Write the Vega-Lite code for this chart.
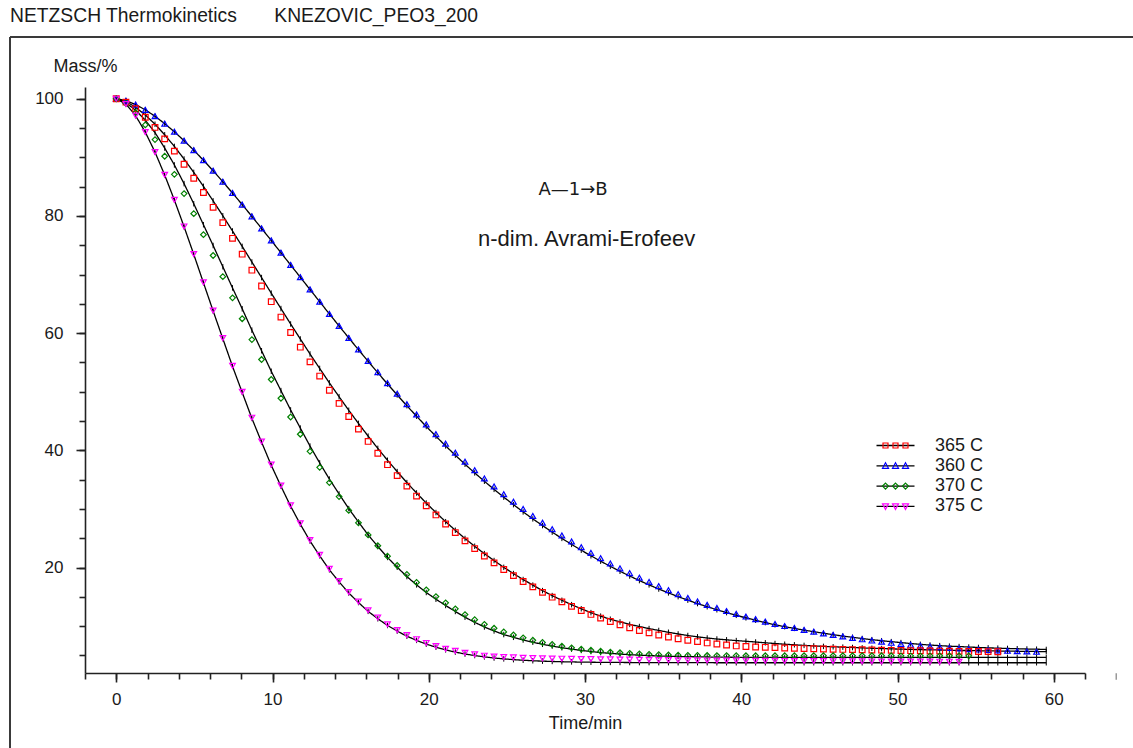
{
"$schema":"https://vega.github.io/schema/vega-lite/v6.json",
"width":1000,"height":586,
"autosize":{"type":"none"},
"padding":{"left":85,"top":87,"right":48,"bottom":75},
"background":"white",
"title":{"text":"NETZSCH Thermokinetics\u00a0\u00a0\u00a0\u00a0\u00a0\u00a0\u00a0KNEZOVIC_PEO3_200","anchor":"start","frame":"group","dx":-75,"offset":10,"fontSize":19.3,"fontWeight":"normal","font":"Liberation Sans","color":"#1a1a1a"},
"config":{"view":{"stroke":null},
"axis":{"domainColor":"#222","domainWidth":1.6,"tickColor":"#222","tickWidth":1.6,"labelFont":"Liberation Sans","labelFontSize":17,"labelColor":"#1a1a1a","titleFont":"Liberation Sans","titleFontSize":18,"titleFontWeight":"normal","titleColor":"#1a1a1a","grid":false}},
"resolve":{"axis":{"x":"independent","y":"independent"}},
"data":{"values":[
{"s":"365 C","t":0,"m":100,"f":100},{"s":"365 C","t":0.62,"m":99.42,"f":99.52},{"s":"365 C","t":1.24,"m":98.29,"f":98.54},{"s":"365 C","t":1.86,"m":96.83,"f":97.23},{"s":"365 C","t":2.48,"m":95.1,"f":95.65},{"s":"365 C","t":3.1,"m":93.15,"f":93.85},{"s":"365 C","t":3.72,"m":91.06,"f":91.86},{"s":"365 C","t":4.34,"m":88.81,"f":89.71},{"s":"365 C","t":4.96,"m":86.43,"f":87.43},{"s":"365 C","t":5.58,"m":84.0,"f":85.05},
{"s":"365 C","t":6.2,"m":81.47,"f":82.57},{"s":"365 C","t":6.82,"m":78.85,"f":80.03},{"s":"365 C","t":7.44,"m":76.18,"f":77.43},{"s":"365 C","t":8.06,"m":73.47,"f":74.8},{"s":"365 C","t":8.68,"m":70.74,"f":72.14},{"s":"365 C","t":9.3,"m":68.05,"f":69.48},{"s":"365 C","t":9.92,"m":65.37,"f":66.82},{"s":"365 C","t":10.54,"m":62.74,"f":64.19},{"s":"365 C","t":11.16,"m":60.11,"f":61.56},{"s":"365 C","t":11.78,"m":57.6,"f":59.0},
{"s":"365 C","t":12.4,"m":55.09,"f":56.44},{"s":"365 C","t":13.02,"m":52.67,"f":53.97},{"s":"365 C","t":13.64,"m":50.26,"f":51.51},{"s":"365 C","t":14.26,"m":48.0,"f":49.15},{"s":"365 C","t":14.88,"m":45.78,"f":46.83},{"s":"365 C","t":15.5,"m":43.62,"f":44.6},{"s":"365 C","t":16.12,"m":41.52,"f":42.42},{"s":"365 C","t":16.74,"m":39.5,"f":40.33},{"s":"365 C","t":17.36,"m":37.55,"f":38.3},{"s":"365 C","t":17.98,"m":35.69,"f":36.37},
{"s":"365 C","t":18.6,"m":33.89,"f":34.49},{"s":"365 C","t":19.22,"m":32.19,"f":32.72},{"s":"365 C","t":19.84,"m":30.55,"f":31.0},{"s":"365 C","t":20.46,"m":28.98,"f":29.38},{"s":"365 C","t":21.08,"m":27.42,"f":27.82},{"s":"365 C","t":21.7,"m":25.96,"f":26.36},{"s":"365 C","t":22.32,"m":24.55,"f":24.95},{"s":"365 C","t":22.94,"m":23.23,"f":23.63},{"s":"365 C","t":23.56,"m":21.97,"f":22.37},{"s":"365 C","t":24.18,"m":20.79,"f":21.19},
{"s":"365 C","t":24.8,"m":19.66,"f":20.03},{"s":"365 C","t":25.42,"m":18.62,"f":18.97},{"s":"365 C","t":26.04,"m":17.62,"f":17.95},{"s":"365 C","t":26.66,"m":16.7,"f":17.0},{"s":"365 C","t":27.28,"m":15.76,"f":16.06},{"s":"365 C","t":27.9,"m":14.94,"f":15.21},{"s":"365 C","t":28.52,"m":14.14,"f":14.41},{"s":"365 C","t":29.14,"m":13.38,"f":13.66},{"s":"365 C","t":29.76,"m":12.66,"f":12.96},{"s":"365 C","t":30.38,"m":12.0,"f":12.3},
{"s":"365 C","t":31,"m":11.37,"f":11.7},{"s":"365 C","t":31.62,"m":10.79,"f":11.18},{"s":"365 C","t":32.24,"m":10.24,"f":10.71},{"s":"365 C","t":32.86,"m":9.73,"f":10.3},{"s":"365 C","t":33.48,"m":9.25,"f":9.93},{"s":"365 C","t":34.1,"m":8.85,"f":9.58},{"s":"365 C","t":34.72,"m":8.49,"f":9.26},{"s":"365 C","t":35.34,"m":8.15,"f":8.95},{"s":"365 C","t":35.96,"m":7.85,"f":8.66},{"s":"365 C","t":36.58,"m":7.58,"f":8.4},
{"s":"365 C","t":37.2,"m":7.36,"f":8.17},{"s":"365 C","t":37.82,"m":7.13,"f":7.97},{"s":"365 C","t":38.44,"m":6.95,"f":7.8},{"s":"365 C","t":39.06,"m":6.77,"f":7.66},{"s":"365 C","t":39.68,"m":6.62,"f":7.53},{"s":"365 C","t":40.3,"m":6.52,"f":7.41},{"s":"365 C","t":40.92,"m":6.44,"f":7.29},{"s":"365 C","t":41.54,"m":6.38,"f":7.15},{"s":"365 C","t":42.16,"m":6.33,"f":7.03},{"s":"365 C","t":42.78,"m":6.27,"f":6.91},
{"s":"365 C","t":43.4,"m":6.22,"f":6.81},{"s":"365 C","t":44.02,"m":6.17,"f":6.71},{"s":"365 C","t":44.64,"m":6.13,"f":6.62},{"s":"365 C","t":45.26,"m":6.09,"f":6.54},{"s":"365 C","t":45.88,"m":6.05,"f":6.47},{"s":"365 C","t":46.5,"m":6.02,"f":6.41},{"s":"365 C","t":47.12,"m":5.99,"f":6.35},{"s":"365 C","t":47.74,"m":5.96,"f":6.28},{"s":"365 C","t":48.36,"m":5.93,"f":6.22},{"s":"365 C","t":48.98,"m":5.9,"f":6.17},
{"s":"365 C","t":49.6,"m":5.87,"f":6.12},{"s":"365 C","t":50.22,"m":5.84,"f":6.07},{"s":"365 C","t":50.84,"m":5.81,"f":6.03},{"s":"365 C","t":51.46,"m":5.79,"f":5.98},{"s":"365 C","t":52.08,"m":5.76,"f":5.95},{"s":"365 C","t":52.7,"m":5.74,"f":5.92},{"s":"365 C","t":53.32,"m":5.72,"f":5.89},{"s":"365 C","t":53.94,"m":5.7,"f":5.85},{"s":"365 C","t":54.56,"m":5.68,"f":5.83},{"s":"365 C","t":55.18,"m":5.66,"f":5.8},
{"s":"365 C","t":55.8,"m":5.65,"f":5.78},{"s":"365 C","t":56.42,"m":5.63,"f":5.75},{"s":"365 C","t":57.04,"f":5.73},{"s":"365 C","t":57.66,"f":5.71},{"s":"365 C","t":58.28,"f":5.69},{"s":"365 C","t":58.9,"f":5.67},{"s":"365 C","t":59.52,"f":5.65},
{"s":"360 C","t":0,"m":100,"f":100},{"s":"360 C","t":0.62,"m":99.67,"f":99.67},{"s":"360 C","t":1.24,"m":99.0,"f":99.0},{"s":"360 C","t":1.86,"m":98.1,"f":98.1},{"s":"360 C","t":2.48,"m":97.01,"f":97.01},{"s":"360 C","t":3.1,"m":95.75,"f":95.75},{"s":"360 C","t":3.72,"m":94.36,"f":94.36},{"s":"360 C","t":4.34,"m":92.84,"f":92.84},{"s":"360 C","t":4.96,"m":91.22,"f":91.22},{"s":"360 C","t":5.58,"m":89.5,"f":89.5},
{"s":"360 C","t":6.2,"m":87.71,"f":87.71},{"s":"360 C","t":6.82,"m":85.83,"f":85.83},{"s":"360 C","t":7.44,"m":83.91,"f":83.91},{"s":"360 C","t":8.06,"m":81.93,"f":81.93},{"s":"360 C","t":8.68,"m":79.93,"f":79.93},{"s":"360 C","t":9.3,"m":77.87,"f":77.87},{"s":"360 C","t":9.92,"m":75.81,"f":75.81},{"s":"360 C","t":10.54,"m":73.72,"f":73.72},{"s":"360 C","t":11.16,"m":71.63,"f":71.63},{"s":"360 C","t":11.78,"m":69.54,"f":69.54},
{"s":"360 C","t":12.4,"m":67.44,"f":67.44},{"s":"360 C","t":13.02,"m":65.36,"f":65.36},{"s":"360 C","t":13.64,"m":63.27,"f":63.27},{"s":"360 C","t":14.26,"m":61.23,"f":61.23},{"s":"360 C","t":14.88,"m":59.18,"f":59.18},{"s":"360 C","t":15.5,"m":57.22,"f":57.18},{"s":"360 C","t":16.12,"m":55.27,"f":55.19},{"s":"360 C","t":16.74,"m":53.35,"f":53.24},{"s":"360 C","t":17.36,"m":51.47,"f":51.32},{"s":"360 C","t":17.98,"m":49.65,"f":49.45},
{"s":"360 C","t":18.6,"m":47.86,"f":47.61},{"s":"360 C","t":19.22,"m":46.12,"f":45.82},{"s":"360 C","t":19.84,"m":44.42,"f":44.07},{"s":"360 C","t":20.46,"m":42.77,"f":42.4},{"s":"360 C","t":21.08,"m":41.15,"f":40.75},{"s":"360 C","t":21.7,"m":39.59,"f":39.17},{"s":"360 C","t":22.32,"m":38.07,"f":37.62},{"s":"360 C","t":22.94,"m":36.61,"f":36.15},{"s":"360 C","t":23.56,"m":35.19,"f":34.72},{"s":"360 C","t":24.18,"m":33.83,"f":33.34},
{"s":"360 C","t":24.8,"m":32.51,"f":32.01},{"s":"360 C","t":25.42,"m":31.23,"f":30.73},{"s":"360 C","t":26.04,"m":29.99,"f":29.49},{"s":"360 C","t":26.66,"m":28.8,"f":28.3},{"s":"360 C","t":27.28,"m":27.66,"f":27.16},{"s":"360 C","t":27.9,"m":26.54,"f":26.04},{"s":"360 C","t":28.52,"m":25.47,"f":24.97},{"s":"360 C","t":29.14,"m":24.45,"f":23.95},{"s":"360 C","t":29.76,"m":23.46,"f":22.96},{"s":"360 C","t":30.38,"m":22.5,"f":22.0},
{"s":"360 C","t":31,"m":21.58,"f":21.08},{"s":"360 C","t":31.62,"m":20.7,"f":20.2},{"s":"360 C","t":32.24,"m":19.86,"f":19.36},{"s":"360 C","t":32.86,"m":19.05,"f":18.55},{"s":"360 C","t":33.48,"m":18.27,"f":17.77},{"s":"360 C","t":34.1,"m":17.54,"f":17.04},{"s":"360 C","t":34.72,"m":16.83,"f":16.33},{"s":"360 C","t":35.34,"m":16.13,"f":15.67},{"s":"360 C","t":35.96,"m":15.46,"f":15.03},{"s":"360 C","t":36.58,"m":14.81,"f":14.43},
{"s":"360 C","t":37.2,"m":14.2,"f":13.85},{"s":"360 C","t":37.82,"m":13.63,"f":13.31},{"s":"360 C","t":38.44,"m":13.09,"f":12.79},{"s":"360 C","t":39.06,"m":12.57,"f":12.3},{"s":"360 C","t":39.68,"m":12.09,"f":11.84},{"s":"360 C","t":40.3,"m":11.63,"f":11.41},{"s":"360 C","t":40.92,"m":11.2,"f":11.0},{"s":"360 C","t":41.54,"m":10.77,"f":10.6},{"s":"360 C","t":42.16,"m":10.38,"f":10.23},{"s":"360 C","t":42.78,"m":10.01,"f":9.9},
{"s":"360 C","t":43.4,"m":9.69,"f":9.61},{"s":"360 C","t":44.02,"m":9.35,"f":9.31},{"s":"360 C","t":44.64,"m":9.05,"f":9.05},{"s":"360 C","t":45.26,"m":8.76,"f":8.79},{"s":"360 C","t":45.88,"m":8.49,"f":8.54},{"s":"360 C","t":46.5,"m":8.23,"f":8.3},{"s":"360 C","t":47.12,"m":7.99,"f":8.09},{"s":"360 C","t":47.74,"m":7.75,"f":7.88},{"s":"360 C","t":48.36,"m":7.54,"f":7.69},{"s":"360 C","t":48.98,"m":7.34,"f":7.51},
{"s":"360 C","t":49.6,"m":7.15,"f":7.35},{"s":"360 C","t":50.22,"m":6.97,"f":7.19},{"s":"360 C","t":50.84,"m":6.81,"f":7.03},{"s":"360 C","t":51.46,"m":6.65,"f":6.89},{"s":"360 C","t":52.08,"m":6.52,"f":6.77},{"s":"360 C","t":52.7,"m":6.4,"f":6.67},{"s":"360 C","t":53.32,"m":6.28,"f":6.58},{"s":"360 C","t":53.94,"m":6.18,"f":6.51},{"s":"360 C","t":54.56,"m":6.08,"f":6.43},{"s":"360 C","t":55.18,"m":6.0,"f":6.36},
{"s":"360 C","t":55.8,"m":5.92,"f":6.29},{"s":"360 C","t":56.42,"m":5.85,"f":6.24},{"s":"360 C","t":57.04,"m":5.79,"f":6.19},{"s":"360 C","t":57.66,"m":5.73,"f":6.14},{"s":"360 C","t":58.28,"m":5.67,"f":6.09},{"s":"360 C","t":58.9,"m":5.62,"f":6.06},{"s":"360 C","t":59.52,"f":6.02},
{"s":"370 C","t":0,"m":100,"f":100},{"s":"370 C","t":0.62,"m":99.21,"f":99.31},{"s":"370 C","t":1.24,"m":97.64,"f":98.04},{"s":"370 C","t":1.86,"m":95.53,"f":96.33},{"s":"370 C","t":2.48,"m":93.02,"f":94.22},{"s":"370 C","t":3.1,"m":90.18,"f":91.58},{"s":"370 C","t":3.72,"m":87.1,"f":88.7},{"s":"370 C","t":4.34,"m":83.81,"f":85.51},{"s":"370 C","t":4.96,"m":80.38,"f":82.08},{"s":"370 C","t":5.58,"m":76.8,"f":78.5},
{"s":"370 C","t":6.2,"m":73.25,"f":74.95},{"s":"370 C","t":6.82,"m":69.63,"f":71.33},{"s":"370 C","t":7.44,"m":66.02,"f":67.72},{"s":"370 C","t":8.06,"m":62.46,"f":64.16},{"s":"370 C","t":8.68,"m":58.9,"f":60.5},{"s":"370 C","t":9.3,"m":55.49,"f":56.99},{"s":"370 C","t":9.92,"m":52.09,"f":53.49},{"s":"370 C","t":10.54,"m":48.89,"f":50.19},{"s":"370 C","t":11.16,"m":45.69,"f":46.89},{"s":"370 C","t":11.78,"m":42.75,"f":43.8},
{"s":"370 C","t":12.4,"m":39.82,"f":40.72},{"s":"370 C","t":13.02,"m":37.1,"f":37.85},{"s":"370 C","t":13.64,"m":34.49,"f":35.09},{"s":"370 C","t":14.26,"m":32.1,"f":32.55},{"s":"370 C","t":14.88,"m":29.75,"f":30.05},{"s":"370 C","t":15.5,"m":27.62,"f":27.77},{"s":"370 C","t":16.12,"m":25.57,"f":25.57},{"s":"370 C","t":16.74,"m":23.72,"f":23.6},{"s":"370 C","t":17.36,"m":21.94,"f":21.72},{"s":"370 C","t":17.98,"m":20.35,"f":20.05},
{"s":"370 C","t":18.6,"m":18.83,"f":18.46},{"s":"370 C","t":19.22,"m":17.46,"f":17.04},{"s":"370 C","t":19.84,"m":16.19,"f":15.74},{"s":"370 C","t":20.46,"m":15.04,"f":14.59},{"s":"370 C","t":21.08,"m":13.97,"f":13.52},{"s":"370 C","t":21.7,"m":12.95,"f":12.5},{"s":"370 C","t":22.32,"m":11.97,"f":11.52},{"s":"370 C","t":22.94,"m":11.1,"f":10.65},{"s":"370 C","t":23.56,"m":10.3,"f":9.85},{"s":"370 C","t":24.18,"m":9.63,"f":9.18},
{"s":"370 C","t":24.8,"m":9.01,"f":8.56},{"s":"370 C","t":25.42,"m":8.49,"f":8.09},{"s":"370 C","t":26.04,"m":8.0,"f":7.63},{"s":"370 C","t":26.66,"m":7.58,"f":7.25},{"s":"370 C","t":27.28,"m":7.2,"f":6.9},{"s":"370 C","t":27.9,"m":6.86,"f":6.59},{"s":"370 C","t":28.52,"m":6.56,"f":6.31},{"s":"370 C","t":29.14,"m":6.3,"f":6.08},{"s":"370 C","t":29.76,"m":6.07,"f":5.85},{"s":"370 C","t":30.38,"m":5.88,"f":5.66},
{"s":"370 C","t":31,"m":5.71,"f":5.49},{"s":"370 C","t":31.62,"m":5.57,"f":5.35},{"s":"370 C","t":32.24,"m":5.45,"f":5.23},{"s":"370 C","t":32.86,"m":5.35,"f":5.13},{"s":"370 C","t":33.48,"m":5.26,"f":5.04},{"s":"370 C","t":34.1,"m":5.19,"f":4.97},{"s":"370 C","t":34.72,"m":5.13,"f":4.91},{"s":"370 C","t":35.34,"m":5.08,"f":4.86},{"s":"370 C","t":35.96,"m":5.04,"f":4.82},{"s":"370 C","t":36.58,"m":5.01,"f":4.79},
{"s":"370 C","t":37.2,"m":4.99,"f":4.76},{"s":"370 C","t":37.82,"m":4.98,"f":4.73},{"s":"370 C","t":38.44,"m":4.97,"f":4.71},{"s":"370 C","t":39.06,"m":4.97,"f":4.69},{"s":"370 C","t":39.68,"m":4.96,"f":4.68},{"s":"370 C","t":40.3,"m":4.95,"f":4.67},{"s":"370 C","t":40.92,"m":4.95,"f":4.66},{"s":"370 C","t":41.54,"m":4.95,"f":4.65},{"s":"370 C","t":42.16,"m":4.95,"f":4.65},{"s":"370 C","t":42.78,"m":4.95,"f":4.65},
{"s":"370 C","t":43.4,"m":4.95,"f":4.65},{"s":"370 C","t":44.02,"m":4.95,"f":4.65},{"s":"370 C","t":44.64,"m":4.95,"f":4.65},{"s":"370 C","t":45.26,"m":4.94,"f":4.65},{"s":"370 C","t":45.88,"m":4.94,"f":4.65},{"s":"370 C","t":46.5,"m":4.94,"f":4.65},{"s":"370 C","t":47.12,"m":4.94,"f":4.65},{"s":"370 C","t":47.74,"m":4.94,"f":4.65},{"s":"370 C","t":48.36,"m":4.94,"f":4.65},{"s":"370 C","t":48.98,"m":4.94,"f":4.65},
{"s":"370 C","t":49.6,"m":4.94,"f":4.65},{"s":"370 C","t":50.22,"m":4.93,"f":4.65},{"s":"370 C","t":50.84,"m":4.93,"f":4.65},{"s":"370 C","t":51.46,"m":4.93,"f":4.65},{"s":"370 C","t":52.08,"m":4.93,"f":4.65},{"s":"370 C","t":52.7,"m":4.93,"f":4.65},{"s":"370 C","t":53.32,"m":4.93,"f":4.65},{"s":"370 C","t":53.94,"m":4.93,"f":4.65},{"s":"370 C","t":54.56,"m":4.93,"f":4.65},{"s":"370 C","t":55.18,"f":4.65},
{"s":"370 C","t":55.8,"f":4.65},{"s":"370 C","t":56.42,"f":4.65},{"s":"370 C","t":57.04,"f":4.65},{"s":"370 C","t":57.66,"f":4.65},{"s":"370 C","t":58.28,"f":4.65},{"s":"370 C","t":58.9,"f":4.65},{"s":"370 C","t":59.52,"f":4.65},
{"s":"375 C","t":0,"m":100,"f":100},{"s":"375 C","t":0.62,"m":99.1,"f":99.1},{"s":"375 C","t":1.24,"m":97.11,"f":97.1},{"s":"375 C","t":1.86,"m":94.32,"f":94.3},{"s":"375 C","t":2.48,"m":90.91,"f":90.89},{"s":"375 C","t":3.1,"m":87.01,"f":86.98},{"s":"375 C","t":3.72,"m":82.74,"f":82.71},{"s":"375 C","t":4.34,"m":78.2,"f":78.16},{"s":"375 C","t":4.96,"m":73.49,"f":73.44},{"s":"375 C","t":5.58,"m":68.68,"f":68.6},
{"s":"375 C","t":6.2,"m":63.86,"f":63.79},{"s":"375 C","t":6.82,"m":59.14,"f":59.06},{"s":"375 C","t":7.44,"m":54.42,"f":54.33},{"s":"375 C","t":8.06,"m":49.99,"f":49.89},{"s":"375 C","t":8.68,"m":45.57,"f":45.45},{"s":"375 C","t":9.3,"m":41.5,"f":41.4},{"s":"375 C","t":9.92,"m":37.58,"f":37.45},{"s":"375 C","t":10.54,"m":34.0,"f":33.88},{"s":"375 C","t":11.16,"m":30.6,"f":30.46},{"s":"375 C","t":11.78,"m":27.55,"f":27.4},
{"s":"375 C","t":12.4,"m":24.68,"f":24.52},{"s":"375 C","t":13.02,"m":22.15,"f":22.0},{"s":"375 C","t":13.64,"m":19.78,"f":19.61},{"s":"375 C","t":14.26,"m":17.7,"f":17.55},{"s":"375 C","t":14.88,"m":15.82,"f":15.65},{"s":"375 C","t":15.5,"m":14.2,"f":14.03},{"s":"375 C","t":16.12,"m":12.71,"f":12.52},{"s":"375 C","t":16.74,"m":11.45,"f":11.26},{"s":"375 C","t":17.36,"m":10.3,"f":10.11},{"s":"375 C","t":17.98,"m":9.34,"f":9.15},
{"s":"375 C","t":18.6,"m":8.47,"f":8.28},{"s":"375 C","t":19.22,"m":7.77,"f":7.57},{"s":"375 C","t":19.84,"m":7.13,"f":6.93},{"s":"375 C","t":20.46,"m":6.61,"f":6.41},{"s":"375 C","t":21.08,"m":6.14,"f":5.95},{"s":"375 C","t":21.7,"m":5.77,"f":5.57},{"s":"375 C","t":22.32,"m":5.44,"f":5.24},{"s":"375 C","t":22.94,"m":5.18,"f":4.98},{"s":"375 C","t":23.56,"m":4.95,"f":4.75},{"s":"375 C","t":24.18,"m":4.8,"f":4.56},
{"s":"375 C","t":24.8,"m":4.72,"f":4.41},{"s":"375 C","t":25.42,"m":4.66,"f":4.28},{"s":"375 C","t":26.04,"m":4.6,"f":4.18},{"s":"375 C","t":26.66,"m":4.55,"f":4.09},{"s":"375 C","t":27.28,"m":4.5,"f":4.02},{"s":"375 C","t":27.9,"m":4.47,"f":3.97},{"s":"375 C","t":28.52,"m":4.44,"f":3.92},{"s":"375 C","t":29.14,"m":4.41,"f":3.89},{"s":"375 C","t":29.76,"m":4.38,"f":3.86},{"s":"375 C","t":30.38,"m":4.36,"f":3.84},
{"s":"375 C","t":31,"m":4.34,"f":3.82},{"s":"375 C","t":31.62,"m":4.32,"f":3.81},{"s":"375 C","t":32.24,"m":4.3,"f":3.8},{"s":"375 C","t":32.86,"m":4.28,"f":3.79},{"s":"375 C","t":33.48,"m":4.26,"f":3.78},{"s":"375 C","t":34.1,"m":4.24,"f":3.78},{"s":"375 C","t":34.72,"m":4.22,"f":3.77},{"s":"375 C","t":35.34,"m":4.2,"f":3.77},{"s":"375 C","t":35.96,"m":4.18,"f":3.76},{"s":"375 C","t":36.58,"m":4.16,"f":3.76},
{"s":"375 C","t":37.2,"m":4.15,"f":3.76},{"s":"375 C","t":37.82,"m":4.14,"f":3.76},{"s":"375 C","t":38.44,"m":4.13,"f":3.75},{"s":"375 C","t":39.06,"m":4.12,"f":3.75},{"s":"375 C","t":39.68,"m":4.11,"f":3.75},{"s":"375 C","t":40.3,"m":4.1,"f":3.75},{"s":"375 C","t":40.92,"m":4.09,"f":3.75},{"s":"375 C","t":41.54,"m":4.08,"f":3.75},{"s":"375 C","t":42.16,"m":4.07,"f":3.75},{"s":"375 C","t":42.78,"m":4.06,"f":3.75},
{"s":"375 C","t":43.4,"m":4.05,"f":3.75},{"s":"375 C","t":44.02,"m":4.04,"f":3.75},{"s":"375 C","t":44.64,"m":4.03,"f":3.75},{"s":"375 C","t":45.26,"m":4.02,"f":3.75},{"s":"375 C","t":45.88,"m":4.01,"f":3.75},{"s":"375 C","t":46.5,"m":4.0,"f":3.75},{"s":"375 C","t":47.12,"m":3.99,"f":3.75},{"s":"375 C","t":47.74,"m":3.98,"f":3.75},{"s":"375 C","t":48.36,"m":3.97,"f":3.75},{"s":"375 C","t":48.98,"m":3.96,"f":3.75},
{"s":"375 C","t":49.6,"m":3.96,"f":3.75},{"s":"375 C","t":50.22,"m":3.95,"f":3.75},{"s":"375 C","t":50.84,"m":3.95,"f":3.75},{"s":"375 C","t":51.46,"m":3.94,"f":3.75},{"s":"375 C","t":52.08,"m":3.94,"f":3.75},{"s":"375 C","t":52.7,"m":3.93,"f":3.75},{"s":"375 C","t":53.32,"m":3.93,"f":3.75},{"s":"375 C","t":53.94,"m":3.92,"f":3.75},{"s":"375 C","t":54.56,"f":3.75},{"s":"375 C","t":55.18,"f":3.75},
{"s":"375 C","t":55.8,"f":3.75},{"s":"375 C","t":56.42,"f":3.75},{"s":"375 C","t":57.04,"f":3.75},{"s":"375 C","t":57.66,"f":3.75},{"s":"375 C","t":58.28,"f":3.75},{"s":"375 C","t":58.9,"f":3.75},{"s":"375 C","t":59.52,"f":3.75}
]},
"layer":[
{"data":{"values":[{}]},"mark":{"type":"rule","stroke":"#3a3a3a","strokeWidth":2},
 "encoding":{"x":{"datum":-6.8,"type":"quantitative","axis":null},"x2":{"datum":90},"y":{"datum":110.53,"type":"quantitative","axis":null}}},
{"data":{"values":[{}]},"mark":{"type":"rule","stroke":"#3a3a3a","strokeWidth":2},
 "encoding":{"x":{"datum":-6.8,"type":"quantitative","axis":null},"y":{"datum":110.53,"type":"quantitative","axis":null},"y2":{"datum":-30}}},
{"data":{"values":[{}]},"mark":{"type":"rule","stroke":"#999","strokeWidth":1.5},
 "encoding":{"x":{"datum":64,"type":"quantitative","axis":null},"y":{"datum":1.95,"type":"quantitative","axis":null},"y2":{"datum":0.85}}},
{"mark":{"type":"line","color":"#000","strokeWidth":1.3},
 "encoding":{
  "x":{"field":"t","type":"quantitative","scale":{"domain":[-2,62],"nice":false,"zero":false},
   "axis":{"orient":"bottom","title":"Time/min","values":[0,10,20,30,40,50,60],"tickSize":9,"labelPadding":9,"titlePadding":7,"labelOverlap":false,"labelFlush":false}},
  "y":{"field":"f","type":"quantitative","scale":{"domain":[2,102],"nice":false,"zero":false},
   "axis":{"orient":"left","title":"Mass/%","values":[20,40,60,80,100],"tickSize":9,"labelPadding":13,"labelOverlap":false,"labelFlush":false,"titleAngle":0,"titleX":-32,"titleY":-21,"titleAlign":"left","titleBaseline":"middle"}},
  "strokeDash":{"field":"s","type":"nominal","scale":{"domain":["365 C","360 C","370 C","375 C","~"],"range":[[1,0],[1,0],[1,0],[1,0],[1,0]]},
   "legend":{"orient":"none","legendX":801.5,"legendY":349.5,"title":null,"padding":0,"symbolType":"M-3.8,0H3.8","symbolSize":100,"symbolStrokeColor":"#000","symbolStrokeWidth":1.3,"labelFontSize":18,"labelFont":"Liberation Sans","labelOpacity":0,"labelOffset":30.5,"rowPadding":2.3,"values":["365 C","360 C","370 C","375 C"]}}
 }},
{"mark":{"type":"point","shape":"M0,-1V1","size":30,"color":"#000","strokeWidth":1,"filled":false,"opacity":1},
 "encoding":{
  "x":{"field":"t","type":"quantitative","axis":{"orient":"bottom","title":null,"values":[-2,0,2,4,6,8,10,12,14,16,18,20,22,24,26,28,30,32,34,36,38,40,42,44,46,48,50,52,54,56,58,60,62],"tickSize":6,"labels":false,"domain":false}},
  "y":{"field":"f","type":"quantitative","axis":{"orient":"left","title":null,"values":[5,10,15,20,25,30,35,40,45,50,55,60,65,70,75,80,85,90,95,100],"tickSize":6,"labels":false,"domain":false}}}},
{"transform":[{"filter":{"field":"s","equal":"360 C"}}],"mark":{"type":"point","shape":"triangle-up","color":"#0000ff","filled":false,"size":32,"strokeWidth":1.2,"opacity":1},
 "encoding":{"x":{"field":"t","type":"quantitative","axis":null},"y":{"field":"m","type":"quantitative","axis":null}}},
{"transform":[{"filter":{"field":"s","equal":"365 C"}}],"mark":{"type":"point","shape":"square","color":"#ff0000","filled":false,"size":32,"strokeWidth":1.2,"opacity":1},
 "encoding":{"x":{"field":"t","type":"quantitative","axis":null},"y":{"field":"m","type":"quantitative","axis":null}}},
{"transform":[{"filter":{"field":"s","equal":"370 C"}}],"mark":{"type":"point","shape":"diamond","color":"#008000","filled":false,"size":32,"strokeWidth":1.2,"opacity":1},
 "encoding":{"x":{"field":"t","type":"quantitative","axis":null},"y":{"field":"m","type":"quantitative","axis":null}}},
{"transform":[{"filter":{"field":"s","equal":"375 C"}}],"mark":{"type":"point","shape":"triangle-down","color":"#ff00ff","filled":false,"size":32,"strokeWidth":1.2,"opacity":1},
 "encoding":{"x":{"field":"t","type":"quantitative","axis":null},"y":{"field":"m","type":"quantitative","axis":null}}},
{"data":{"values":[]},"mark":{"type":"point","filled":false,"strokeWidth":1.2,"opacity":1},
 "encoding":{
  "x":{"field":"t","type":"quantitative","axis":null},
  "y":{"field":"m","type":"quantitative","axis":null},
  "shape":{"field":"s","type":"nominal","scale":{"domain":["365 C","360 C","370 C","375 C"],"range":["M-2.5,-0.5h1v1h-1zM-0.5,-0.5h1v1h-1zM1.5,-0.5h1v1h-1z","M-2,-0.6L-1.4,0.5L-2.6,0.5ZM0,-0.6L0.6,0.5L-0.6,0.5ZM2,-0.6L2.6,0.5L1.4,0.5Z","M-2,-0.6L-1.4,0L-2,0.6L-2.6,0ZM0,-0.6L0.6,0L0,0.6L-0.6,0ZM2,-0.6L2.6,0L2,0.6L1.4,0Z","M-2,0.6L-1.4,-0.5L-2.6,-0.5ZM0,0.6L0.6,-0.5L-0.6,-0.5ZM2,0.6L2.6,-0.5L1.4,-0.5Z"]},"legend":null},
  "color":{"field":"s","type":"nominal","scale":{"domain":["365 C","360 C","370 C","375 C"],"range":["#ff0000","#0000ff","#008000","#ff00ff"]},
   "legend":{"orient":"none","legendX":801.5,"legendY":349.5,"title":null,"padding":0,"symbolSize":100,"symbolStrokeWidth":1.2,"labelFontSize":18,"labelFont":"Liberation Sans","labelColor":"#1a1a1a","labelOffset":30.5,"rowPadding":2.3}}
 }},
{"data":{"values":[{}]},"mark":{"type":"text","text":"A\u20141\u2192B","fontSize":18,"font":"DejaVu Sans","color":"#1a1a1a","align":"center","baseline":"alphabetic"},
 "encoding":{"x":{"datum":29.23,"type":"quantitative","axis":null},"y":{"datum":83.57,"type":"quantitative","axis":null}}},
{"data":{"values":[{}]},"mark":{"type":"text","text":"n-dim. Avrami-Erofeev","fontSize":22,"font":"Liberation Sans","color":"#1a1a1a","align":"center","baseline":"alphabetic"},
 "encoding":{"x":{"datum":30.1,"type":"quantitative","axis":null},"y":{"datum":74.87,"type":"quantitative","axis":null}}}
]
}
